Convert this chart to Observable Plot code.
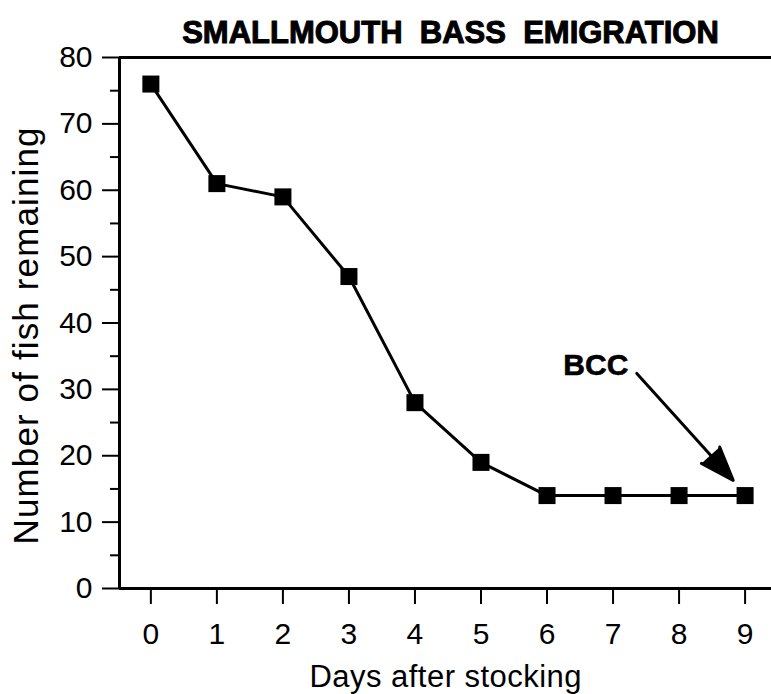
<!DOCTYPE html>
<html>
<head>
<meta charset="utf-8">
<script src="https://cdn.jsdelivr.net/npm/d3@7"></script>
<script src="https://cdn.jsdelivr.net/npm/@observablehq/plot@0.6"></script>
<style>
  html, body { margin: 0; padding: 0; background: #fff; }
  svg text { white-space: pre; }
</style>
</head>
<body>
<div id="chart"></div>
<script>
// ---- data ----
const days = [0, 1, 2, 3, 4, 5, 6, 7, 8, 9];
const fishRemaining = [76, 61, 59, 47, 28, 19, 14, 14, 14, 14];
const xTicks = [0, 1, 2, 3, 4, 5, 6, 7, 8, 9];
const yTicks = [0, 10, 20, 30, 40, 50, 60, 70, 80];
const yMinorTicks = [5, 15, 25, 35, 45, 55, 65, 75];
const xDomain = [-0.475, 9.4];
const yDomain = [0, 80];
const titleText = ["SMALLMOUTH  BASS  EMIGRATION"];
const xLabel = ["Days after stocking"];
const yLabel = ["Number of fish remaining"];
const annotationText = ["BCC"];
const annotationX = [6.74];
const annotationY = [33.6];
const arrowFrom = [7.36, 32.4];
const arrowTo = [8.82, 16.3];

const data = days.map((d, i) => ({day: d, fish: fishRemaining[i]}));
const font = "'Liberation Sans', Arial, Helvetica, sans-serif";

const chart = Plot.plot({
  width: 771,
  height: 694,
  marginTop: 57,
  marginLeft: 119,
  marginRight: 0,
  marginBottom: 106,
  x: {domain: xDomain},
  y: {domain: yDomain},
  style: {fontFamily: font, fontSize: "30px", color: "black", background: "white", overflow: "visible"},
  marks: [
    Plot.axisY({ticks: yTicks, tickSize: 17, tickPadding: 10, strokeWidth: 2, label: null, fontSize: 30}),
    Plot.axisY({ticks: yMinorTicks, tickSize: 9, text: null, strokeWidth: 2, label: null}),
    Plot.axisX({ticks: xTicks, tickSize: 16, tickPadding: 18, strokeWidth: 2, label: null, fontSize: 30}),
    Plot.ruleY([yDomain[0], yDomain[1]], {strokeWidth: 3}),
    Plot.ruleX([xDomain[0]], {strokeWidth: 3}),
    Plot.line(data, {x: "day", y: "fish", strokeWidth: 3, stroke: "black"}),
    Plot.dot(data, {x: "day", y: "fish", symbol: "square", r: 9.6, fill: "black", stroke: null}),
    Plot.text(annotationText, {x: annotationX, y: annotationY, text: d => d, fontSize: 30, fontWeight: "bold",
      fill: "black", stroke: "black", strokeWidth: 0.6}),
    Plot.arrow([0], {x1: () => arrowFrom[0], y1: () => arrowFrom[1], x2: () => arrowTo[0], y2: () => arrowTo[1],
      strokeWidth: 3, headLength: 18, headAngle: 40, fill: "black", stroke: "black"}),
    Plot.text(titleText, {frameAnchor: "top", lineAnchor: "top", text: d => d, dx: 5, dy: -37, fontSize: 31,
      fontWeight: "bold", fill: "black", stroke: "black", strokeWidth: 1}),
    Plot.text(xLabel, {frameAnchor: "bottom", text: d => d, dy: 98, fontSize: 31}),
    Plot.text(yLabel, {frameAnchor: "left", textAnchor: "middle", text: d => d, rotate: -90, dx: -93, dy: 13, fontSize: 35})
  ]
});
document.getElementById("chart").append(chart);
// stretch the axis labels to the reference's lengths
for (const t of chart.querySelectorAll("text")) {
  if (t.textContent === yLabel[0]) {
    t.setAttribute("textLength", 417);
    t.setAttribute("lengthAdjust", "spacing");
  }
  if (t.textContent === xLabel[0]) {
    t.setAttribute("textLength", 272);
    t.setAttribute("lengthAdjust", "spacing");
  }
}
</script>
</body>
</html>
